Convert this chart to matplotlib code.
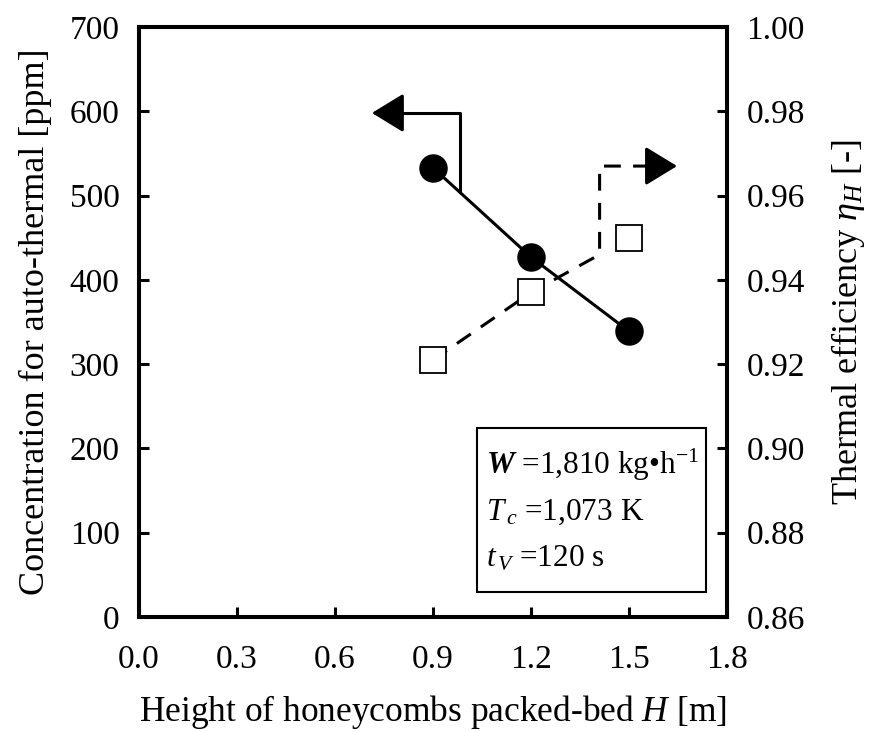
import numpy as np
import matplotlib
matplotlib.use("Agg")
import matplotlib.pyplot as plt
from matplotlib.patches import Rectangle

plt.rcParams["font.family"] = ["Liberation Serif", "DejaVu Serif"]
plt.rcParams["mathtext.fontset"] = "custom"
plt.rcParams["mathtext.rm"] = "Liberation Serif"
plt.rcParams["mathtext.it"] = "Liberation Serif:italic"
plt.rcParams["mathtext.bf"] = "Liberation Serif:bold:italic"

# data
height_H = [0.9, 1.2, 1.5]
conc_ppm = [533, 427, 339]
eff_eta = [0.921, 0.937, 0.950]

# pointer arrows (data coords): solid -> left axis, dashed -> right axis
conc_ptr_x = [0.983, 0.983, 0.78]
conc_ptr_y = [504, 598, 598]
conc_ptr_tip = 0.713
eff_ptr_x = [0.9, 1.2, 1.41, 1.41, 1.58]
eff_ptr_y = [0.921, 0.937, 0.946, 0.967, 0.967]
eff_ptr_tip = 1.647

x_ticks = [0.0, 0.3, 0.6, 0.9, 1.2, 1.5, 1.8]
y_ticks = [0, 100, 200, 300, 400, 500, 600, 700]
y2_ticks = [0.86, 0.88, 0.90, 0.92, 0.94, 0.96, 0.98, 1.00]

box_lines = [r"$\mathbf{W}$ =1,810 kg•h$^{-1}$",
             r"$T_{\,c}$ =1,073 K",
             r"$t_{\,V}$ =120 s"]

fig = plt.figure(figsize=(8.71, 7.31), dpi=100)
ax = fig.add_axes([139 / 871, 1 - 617 / 731, 588 / 871, 590 / 731])
ax2 = ax.twinx()

lw = 2.2
head = "-|>,head_length=0.9,head_width=0.55"
ax.plot(height_H, conc_ppm, color="black", lw=lw, marker="o", ms=19.5,
        mfc="black", mec="black", zorder=3)
ax.plot(conc_ptr_x, conc_ptr_y, color="black", lw=lw)
ax.annotate("", xy=(conc_ptr_tip, conc_ptr_y[-1]), xytext=(conc_ptr_x[-1], conc_ptr_y[-1]),
            arrowprops=dict(arrowstyle=head, mutation_scale=22, color="black",
                            lw=lw, shrinkA=0, shrinkB=0))

ax2.plot(eff_ptr_x, eff_ptr_y, color="black", lw=lw, ls=(0, (5.5, 4)))
ax2.plot(height_H, eff_eta, ls="none", marker="s", ms=18.5, mfc="white",
         mec="black", mew=1.3, zorder=4)
ax2.annotate("", xy=(eff_ptr_tip, eff_ptr_y[-1]), xytext=(eff_ptr_x[-1], eff_ptr_y[-1]),
             arrowprops=dict(arrowstyle=head, mutation_scale=22, color="black",
                             lw=lw, shrinkA=0, shrinkB=0))

ax.set_xlim(0, 1.8)
ax.set_ylim(0, 700)
ax2.set_ylim(0.86, 1.00)
ax.set_xticks(x_ticks)
ax.set_xticklabels([f"{v:.1f}" for v in x_ticks])
ax.set_yticks(y_ticks)
ax2.set_yticks(y2_ticks)
ax2.set_yticklabels([f"{v:.2f}" for v in y2_ticks])

for a in (ax, ax2):
    for s in a.spines.values():
        s.set_linewidth(2.9)
    a.tick_params(direction="in", length=7, width=2.2, labelsize=24)
ax.tick_params(axis="x", pad=20)
ax.tick_params(axis="y", pad=14)
ax2.tick_params(axis="y", pad=14)

ax.set_xlabel("Height of honeycombs packed-bed $H$ [m]", fontsize=25.5, labelpad=13)
ax.set_ylabel("Concentration for auto-thermal [ppm]", fontsize=26, labelpad=13)
ax2.set_ylabel(r"Thermal efficiency $\eta_H$ [-]", fontsize=26, labelpad=17)

ax2.add_patch(Rectangle((0.575, 0.042), 0.389, 0.278, transform=ax.transAxes,
                        fill=False, ec="black", lw=1.5, zorder=5))
for i, line in enumerate(box_lines):
    ax2.text(0.590, 0.258 - i * 0.08, line, transform=ax.transAxes, fontsize=22.5,
             va="center", ha="left", zorder=6)

fig.savefig("out.png", dpi=100)
